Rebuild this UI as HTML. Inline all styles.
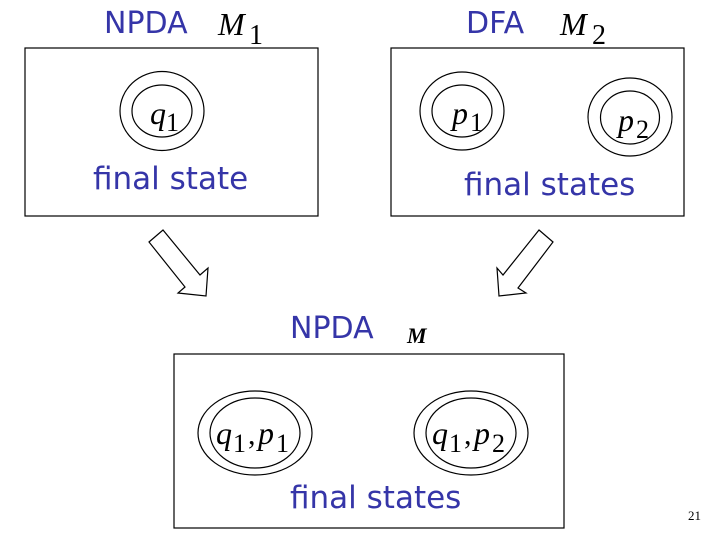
<!DOCTYPE html>
<html><head><meta charset="utf-8"><style>
body{margin:0;background:#fff;}
svg{display:block;}
.b{font-family:"DejaVu Sans","Liberation Sans",sans-serif;fill:#3535a8;}
.m{font-family:"Liberation Serif",serif;font-style:italic;fill:#000;}
.s{font-family:"Liberation Serif",serif;fill:#000;}
</style></head><body>
<svg width="720" height="540" viewBox="0 0 720 540" xmlns="http://www.w3.org/2000/svg">
<g fill="none" stroke="#000" stroke-width="1.2">
<rect x="25" y="48" width="293" height="168"/>
<rect x="391" y="48" width="293" height="168"/>
<rect x="174" y="354" width="390" height="174"/>
<ellipse cx="162" cy="111" rx="42" ry="39.5"/><ellipse cx="162" cy="111" rx="30" ry="26"/>
<ellipse cx="462" cy="111" rx="42" ry="39"/><ellipse cx="462" cy="111" rx="30" ry="26"/>
<ellipse cx="630" cy="117" rx="42" ry="39"/><ellipse cx="630" cy="117.5" rx="29.5" ry="26.5"/>
<ellipse cx="255" cy="433" rx="57" ry="42"/><ellipse cx="255" cy="433" rx="45" ry="35"/>
<ellipse cx="471" cy="433" rx="57" ry="42"/><ellipse cx="471" cy="433" rx="45" ry="35"/>
<polygon points="149,242 163,230 200,275 208,268 206,296 178,293 185,287"/>
<polygon points="539,230 553,242 518,288 526,293 499,296 497,268 503,275"/>
</g>
<text class="b" x="104" y="33" font-size="30">NPDA</text>
<text class="m" x="218" y="35" font-size="32">M</text><text class="s" x="249" y="44" font-size="28">1</text>
<text class="b" x="466" y="33" font-size="30">DFA</text>
<text class="m" x="560" y="35" font-size="32">M</text><text class="s" x="592" y="44" font-size="28">2</text>
<text class="m" x="150" y="124" font-size="32">q</text><text class="s" x="166" y="131" font-size="26">1</text>
<text class="m" x="452" y="124" font-size="32">p</text><text class="s" x="470" y="131" font-size="26">1</text>
<text class="m" x="618" y="131" font-size="32">p</text><text class="s" x="636" y="138" font-size="26">2</text>
<text class="b" x="93" y="189" font-size="31">final state</text>
<text class="b" x="464" y="195" font-size="31">final states</text>
<text class="b" x="290" y="338" font-size="30">NPDA</text>
<text class="m" x="407" y="343" font-size="22" font-weight="bold">M</text>
<text class="m" x="216" y="444" font-size="32">q</text><text class="s" x="233" y="452" font-size="26">1</text><text class="s" x="248" y="444" font-size="30">,</text>
<text class="m" x="258" y="444" font-size="32">p</text><text class="s" x="276" y="452" font-size="26">1</text>
<text class="m" x="432" y="444" font-size="32">q</text><text class="s" x="449" y="452" font-size="26">1</text><text class="s" x="464" y="444" font-size="30">,</text>
<text class="m" x="474" y="444" font-size="32">p</text><text class="s" x="492" y="452" font-size="26">2</text>
<text class="b" x="290" y="508" font-size="31">final states</text>
<text class="s" x="688" y="520" font-size="13">21</text>
</svg>
</body></html>
